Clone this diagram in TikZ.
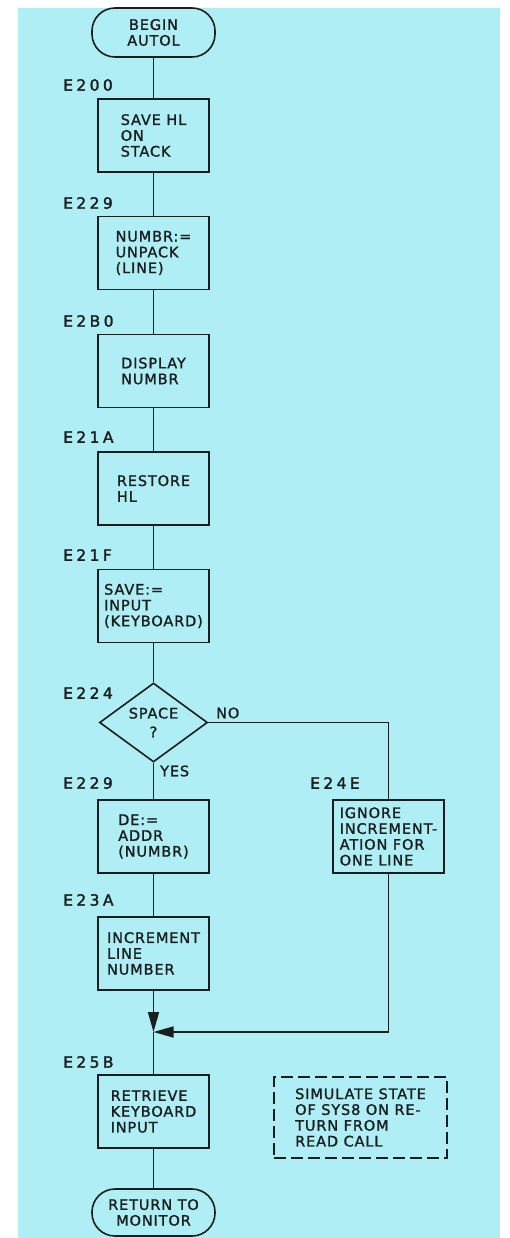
\documentclass[tikz,border=0pt]{standalone}
\usepackage{fontspec}
\setmainfont{DejaVu Sans}[LetterSpace=6,FakeBold=1.3]
\newfontfamily\labfont{DejaVu Sans}[LetterSpace=22,FakeBold=1.8]
\usetikzlibrary{shapes.geometric,arrows.meta}
\definecolor{bg}{RGB}{175,238,244}
\definecolor{ink}{RGB}{25,30,30}
\begin{document}
\begin{tikzpicture}[x=1pt,y=1pt,
 every node/.style={font=\fontsize{14.5}{15.8}\selectfont, text=ink},
 box/.style={draw=ink, line width=1.6pt, minimum width=111pt, minimum height=73pt, inner sep=0pt, align=left},
 term/.style={draw=ink, line width=1.6pt, rounded corners=23pt, minimum width=123pt, minimum height=49pt, inner sep=0pt, align=center},
 dec/.style={draw=ink, line width=1.6pt, diamond, minimum width=108pt, minimum height=69pt, inner sep=0pt, align=center},
 dbox/.style={draw=ink, line width=1.6pt, dash pattern=on 12pt off 5pt, minimum width=173pt, minimum height=81pt, inner sep=0pt, align=left},
 lab/.style={anchor=west, font=\labfont\fontsize{15.5}{17}\selectfont, inner sep=0pt},
 tag/.style={anchor=west, inner sep=0pt},
 conn/.style={draw=ink, line width=1.6pt},
 arr/.style={conn, -{Triangle[length=20pt,width=11pt]}},
]
\fill[white] (0,0) rectangle (509,-1238);
\fill[bg] (18,-8) rectangle (500,-1238);
\useasboundingbox (0,0) rectangle (509,-1238);

\node[term] (begin) at (153.5,-32.5) {BEGIN\\AUTOL};
\node[box] (b1) at (153.5,-135.5) {SAVE HL\\ON\\STACK};
\node[box] (b2) at (153.5,-253) {NUMBR:=\\UNPACK\\(LINE)};
\node[box] (b3) at (153.5,-371) {DISPLAY\\NUMBR};
\node[box] (b4) at (153.5,-488.5) {RESTORE\\HL};
\node[box] (b5) at (153.5,-606) {SAVE:=\\INPUT\\(KEYBOARD)};
\node[dec] (dia) at (153.5,-722.5) {SPACE\\[3pt]?};
\node[box] (b6) at (153.5,-836.5) {DE:=\\ADDR\\(NUMBR)};
\node[box] (b7) at (153.5,-953.5) {INCREMENT\\LINE\\NUMBER};
\node[box] (b9) at (388.5,-836.5) {IGNORE\\INCREMENT-\\ATION FOR\\ONE LINE};
\coordinate (J) at (153.5,-1032);
\coordinate (R) at (388.5,-1032);
\coordinate (N) at (388.5,-722.5);
\node[box] (b8) at (153.5,-1111.5) {RETRIEVE\\KEYBOARD\\INPUT};
\node[term, minimum height=47pt] (end) at (153.5,-1212.5) {RETURN TO\\MONITOR};
\node[dbox] (note) at (360.5,-1117.5) {SIMULATE STATE\\OF SYS8 ON RE-\\TURN FROM\\READ CALL};

\node[lab] (l1) at (63,-85) {E200};
\node[lab] (l2) at (63,-203) {E229};
\node[lab] (l3) at (63,-321) {E2B0};
\node[lab] (l4) at (63,-437) {E21A};
\node[lab] (l5) at (63,-555) {E21F};
\node[lab] (l6) at (63,-693) {E224};
\node[lab] (l7) at (63,-783) {E229};
\node[lab] (l8) at (63,-900) {E23A};
\node[lab] (l9) at (63,-1062) {E25B};
\node[lab] (l10) at (310,-783) {E24E};
\node[tag] (no) at (216,-713) {NO};
\node[tag] (yes) at (160,-771) {YES};

\draw[conn] (begin) -- (b1);
\draw[conn] (b1) -- (b2);
\draw[conn] (b2) -- (b3);
\draw[conn] (b3) -- (b4);
\draw[conn] (b4) -- (b5);
\draw[conn] (b5) -- (dia);
\draw[conn] (dia.south) -- (b6);
\draw[conn] (b6) -- (b7);
\draw[arr] (b7) -- (J);
\draw[conn] (J) -- (b8);
\draw[conn] (b8) -- (end);
\draw[conn] (dia.east) -- (N) -- (b9);
\draw[arr] (b9) -- (R) -- (J);
\end{tikzpicture}
\end{document}
